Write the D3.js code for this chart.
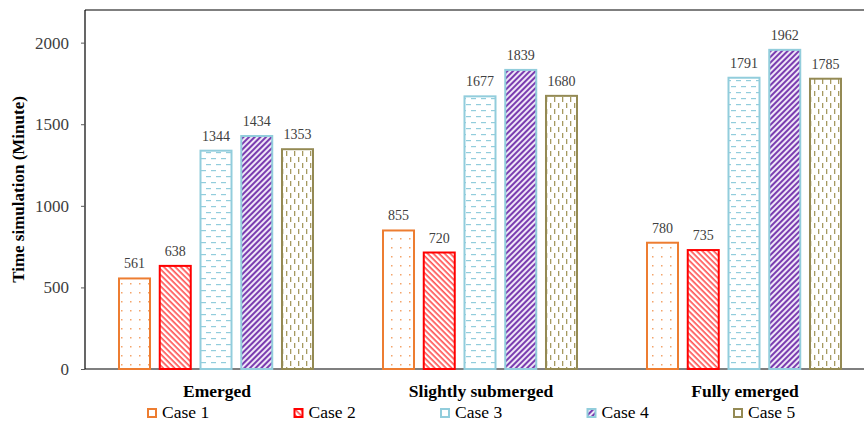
<!DOCTYPE html>
<html>
<head>
<meta charset="utf-8">
<script src="https://cdn.jsdelivr.net/npm/d3@7"></script>
<style>
  html, body { margin: 0; padding: 0; background: #fff; }
  svg { display: block; }
  text { font-family: "Liberation Serif", "Times New Roman", serif; }
</style>
</head>
<body>
<svg id="chart" width="864" height="424"></svg>
<script>
// Simulation time per scenario and case
const categories = ["Emerged", "Slightly submerged", "Fully emerged"];
const seriesNames = ["Case 1", "Case 2", "Case 3", "Case 4", "Case 5"];
const case1 = [561, 855, 780];
const case2 = [638, 720, 735];
const case3 = [1344, 1677, 1791];
const case4 = [1434, 1839, 1962];
const case5 = [1353, 1680, 1785];
const yTicks = [0, 500, 1000, 1500, 2000];

const seriesValues = [case1, case2, case3, case4, case5];
const strokes = ["#ED7D31", "#FF0000", "#92CDDC", "#92CDDC", "#948A54"];
const SERIF = "'Liberation Serif', 'Times New Roman', serif";

const svg = d3.select("#chart");
const margin = { left: 85, top: 10, bottom: 55 };
const plotW = 792;
const plotH = 424 - margin.top - margin.bottom;

const defs = svg.append("defs");

// Case 1: sparse orange dots
const p1 = defs.append("pattern").attr("id", "pat1").attr("patternUnits", "userSpaceOnUse")
  .attr("width", 9).attr("height", 9);
p1.append("rect").attr("width", 9).attr("height", 9).attr("fill", "#fff");
p1.append("rect").attr("x", 4).attr("y", 4).attr("width", 1.5).attr("height", 1.5).attr("fill", "#F4A46A");

// Case 2: dense red downward diagonal stripes
const p2 = defs.append("pattern").attr("id", "pat2").attr("patternUnits", "userSpaceOnUse")
  .attr("width", 4).attr("height", 4).attr("patternTransform", "rotate(45)");
p2.append("rect").attr("width", 4).attr("height", 4).attr("fill", "#fff");
p2.append("rect").attr("width", 4).attr("height", 1.7).attr("fill", "#F55");

// Case 3: staggered horizontal dashes
const p3 = defs.append("pattern").attr("id", "pat3").attr("patternUnits", "userSpaceOnUse")
  .attr("width", 10).attr("height", 12);
p3.append("rect").attr("width", 10).attr("height", 12).attr("fill", "#fff");
p3.append("rect").attr("x", 1).attr("y", 2).attr("width", 5).attr("height", 1.2).attr("fill", "#92CDDC");
p3.append("rect").attr("x", 6).attr("y", 8).attr("width", 5).attr("height", 1.2).attr("fill", "#92CDDC");
p3.append("rect").attr("x", -4).attr("y", 8).attr("width", 5).attr("height", 1.2).attr("fill", "#92CDDC");

// Case 4: purple upward diagonal stripes
const p4 = defs.append("pattern").attr("id", "pat4").attr("patternUnits", "userSpaceOnUse")
  .attr("width", 4).attr("height", 4).attr("patternTransform", "rotate(-45)");
p4.append("rect").attr("width", 4).attr("height", 4).attr("fill", "#EFE6F7");
p4.append("rect").attr("width", 4).attr("height", 2).attr("fill", "#7A3DB0");

// Case 5: staggered vertical olive dashes
const p5 = defs.append("pattern").attr("id", "pat5").attr("patternUnits", "userSpaceOnUse")
  .attr("width", 8).attr("height", 12);
p5.append("rect").attr("width", 8).attr("height", 12).attr("fill", "#fff");
p5.append("rect").attr("x", 2).attr("y", 1).attr("width", 1.3).attr("height", 5).attr("fill", "#A69A60");
p5.append("rect").attr("x", 6).attr("y", 7).attr("width", 1.3).attr("height", 5).attr("fill", "#A69A60");

const fills = ["url(#pat1)", "url(#pat2)", "url(#pat3)", "url(#pat4)", "url(#pat5)"];

const groupW = 196;
const x0 = d3.scaleBand().domain(categories).range([margin.left, margin.left + plotW]);
const x1 = d3.scaleBand().domain(seriesNames).range([0, groupW]).paddingInner(0.19);
const y = d3.scaleLinear().domain([0, 2200]).range([margin.top + plotH, margin.top]);

// frame: left, top, bottom lines
const g = svg.append("g");
g.append("line").attr("x1", margin.left).attr("x2", 870).attr("y1", y(2200)).attr("y2", y(2200))
  .attr("stroke", "#000").attr("stroke-width", 1.2);
g.append("line").attr("x1", margin.left).attr("x2", 870).attr("y1", y(0)).attr("y2", y(0))
  .attr("stroke", "#000").attr("stroke-width", 1.2);
g.append("line").attr("x1", margin.left).attr("x2", margin.left).attr("y1", y(0)).attr("y2", y(2200))
  .attr("stroke", "#000").attr("stroke-width", 1.2);

// y axis
const yAxis = d3.axisLeft(y).tickValues(yTicks).tickFormat(d3.format("d")).tickSize(4).tickPadding(12);
const ya = svg.append("g").attr("transform", `translate(${margin.left},0)`).call(yAxis);
ya.select(".domain").remove();
ya.attr("font-family", null);
ya.selectAll(".tick line").attr("stroke", "#595959");
ya.selectAll(".tick text").attr("font-family", SERIF).attr("font-size", 17).attr("fill", "#404040");

// y title
svg.append("text")
  .attr("transform", `translate(24,${y(1100)}) rotate(-90)`)
  .attr("text-anchor", "middle")
  .attr("font-family", SERIF)
  .attr("font-size", 17).attr("font-weight", "bold").attr("fill", "#000")
  .text("Time simulation (Minute)");

// bars
const barW = x1.bandwidth();
categories.forEach((cat, ci) => {
  const gx = x0(cat) + (x0.bandwidth() - groupW) / 2 - 1;
  seriesNames.forEach((s, si) => {
    const v = seriesValues[si][ci];
    const bx = gx + x1(s);
    svg.append("rect")
      .attr("x", bx + 1).attr("y", y(v) + 1)
      .attr("width", barW - 2).attr("height", y(0) - y(v) - 1)
      .attr("fill", fills[si]).attr("stroke", strokes[si]).attr("stroke-width", 2);
    svg.append("text")
      .attr("x", bx + barW / 2).attr("y", y(v) - 9)
      .attr("text-anchor", "middle").attr("font-family", SERIF)
      .attr("font-size", 14).attr("fill", "#404040")
      .text(v);
  });
  svg.append("text")
    .attr("x", x0(cat) + x0.bandwidth() / 2).attr("y", 397)
    .attr("text-anchor", "middle").attr("font-family", SERIF)
    .attr("font-size", 17.5).attr("font-weight", "bold").attr("fill", "#000")
    .text(cat);
});

// legend
const legX = d3.scaleLinear().domain([0, 4]).range([147, 733]);
seriesNames.forEach((s, si) => {
  const lx = legX(si);
  svg.append("rect").attr("x", lx + 1).attr("y", 409).attr("width", 8).attr("height", 8)
    .attr("fill", si === 3 ? "url(#pat4)" : (si === 1 ? "url(#pat2)" : "#fff"))
    .attr("stroke", strokes[si]).attr("stroke-width", 2);
  svg.append("text").attr("x", lx + 15).attr("y", 418)
    .attr("font-family", SERIF)
    .attr("font-size", 17.5).attr("fill", "#000").text(s);
});
</script>
</body>
</html>
